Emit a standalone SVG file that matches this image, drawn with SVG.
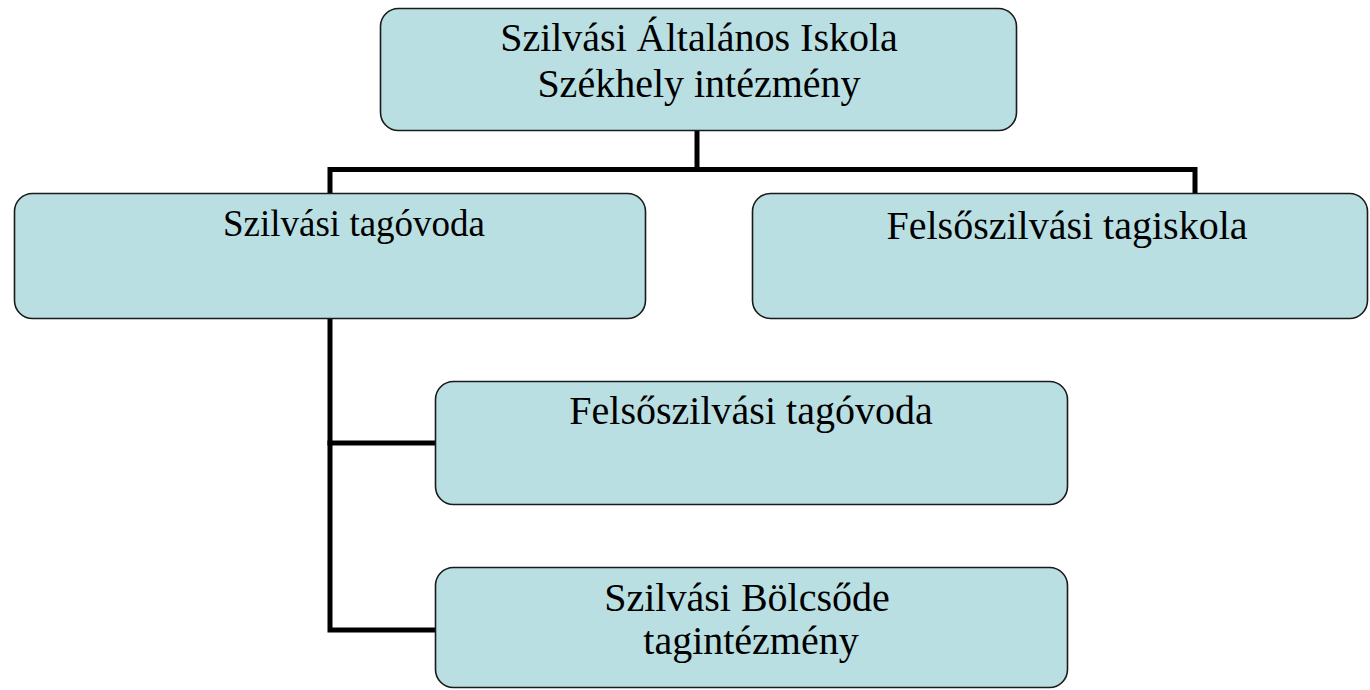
<svg xmlns="http://www.w3.org/2000/svg" width="1370" height="690" viewBox="0 0 1370 690">
<style>
.box{fill:#badfe2;stroke:#1a1a1a;stroke-width:1.6}
.t{font-family:"Liberation Serif","Times New Roman",serif;font-size:40px;fill:#000;text-anchor:middle}
.c{fill:none;stroke:#000;stroke-width:5;stroke-linecap:square;stroke-linejoin:miter}
</style>
<rect width="1370" height="690" fill="#fff"/>
<g id="connectors">
<polyline class="c" points="697,130 697,169.5"/>
<polyline class="c" points="330,193 330,169.5 1195,169.5 1195,193"/>
<polyline class="c" points="330,318 330,630 435,630"/>
<polyline class="c" points="330,443 435,443"/>
</g>
<g id="n-top">
<rect class="box" x="380.5" y="8.5" width="636" height="122" rx="18"/>
<text class="t" x="699" y="51">Szilvási Általános Iskola</text>
<text class="t" x="699" y="97">Székhely intézmény</text>
</g>
<g id="n-tagovoda">
<rect class="box" x="14.5" y="193.5" width="631" height="125" rx="18"/>
<text class="t" x="354" y="236" style="font-size:37px">Szilvási tagóvoda</text>
</g>
<g id="n-tagiskola">
<rect class="box" x="752.5" y="193.5" width="615" height="125" rx="18"/>
<text class="t" x="1067" y="239">Felsőszilvási tagiskola</text>
</g>
<g id="n-felso-tagovoda">
<rect class="box" x="435.5" y="381.5" width="632" height="123" rx="18"/>
<text class="t" x="751" y="424">Felsőszilvási tagóvoda</text>
</g>
<g id="n-bolcsode">
<rect class="box" x="435.5" y="567.5" width="632" height="120" rx="18"/>
<text class="t" x="747" y="611">Szilvási Bölcsőde</text>
<text class="t" x="751" y="654">tagintézmény</text>
</g>
</svg>
